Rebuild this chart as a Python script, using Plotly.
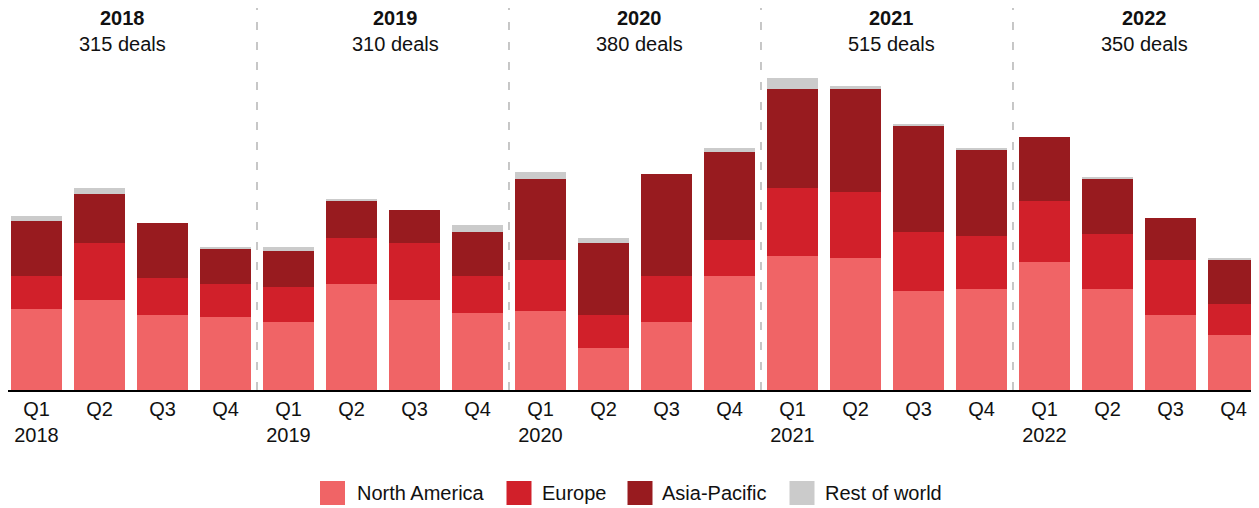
import plotly.graph_objects as go

# ---- data (deal counts per quarter) ----
quarters = ["Q1<br>2018", "Q2", "Q3", "Q4",
            "Q1<br>2019", "Q2", "Q3", "Q4",
            "Q1<br>2020", "Q2", "Q3", "Q4",
            "Q1<br>2021", "Q2", "Q3", "Q4",
            "Q1<br>2022", "Q2", "Q3", "Q4"]

north_america = [37, 41, 34, 33, 31, 48, 41, 35, 36, 19, 31, 52, 61, 60, 45, 46, 58, 46, 34, 25]
europe = [15, 26, 17, 15, 16, 21, 26, 17, 23, 15, 21, 16, 31, 30, 27, 24, 28, 25, 25, 14]
asia_pacific = [25, 22, 25, 16, 16, 17, 15, 20, 37, 33, 46, 40, 45, 47, 48, 39, 29, 25, 19, 20]
rest_of_world = [2, 3, 0, 1, 2, 1, 0, 3, 3, 2, 0, 2, 5, 1, 1, 1, 0, 1, 0, 1]

years = ["2018", "2019", "2020", "2021", "2022"]
deals = [315, 310, 380, 515, 350]

series = [
    ("North America", north_america, "#F06466"),
    ("Europe", europe, "#D1202A"),
    ("Asia-Pacific", asia_pacific, "#981B1F"),
    ("Rest of world", rest_of_world, "#CBCBCB"),
]

FONT = "Liberation Sans, Arial, sans-serif"
x = list(range(len(quarters)))

# page has an 8px body margin, so the figure is 8px smaller than the window
W, H = 1251, 500
PLOT_H = 382


def py(screen_y):
    # window pixel -> paper y
    return (390 - screen_y) / PLOT_H


def px(screen_x):
    # window pixel -> paper x
    return (screen_x - 8) / W


fig = go.Figure()
for name, vals, color in series:
    fig.add_trace(go.Bar(x=x, y=vals, name=name, marker_color=color,
                         marker_line_width=0, showlegend=False))

# year headers and dashed separators
header_x = [122, 395, 639, 891, 1144]
for i, (yr, n) in enumerate(zip(years, deals)):
    fig.add_annotation(x=px(header_x[i]), y=py(18), xref="paper", yref="paper",
                       text=f"<b>{yr}</b>", showarrow=False, xanchor="center", yanchor="middle",
                       font=dict(size=20, color="#111"))
    fig.add_annotation(x=px(header_x[i]), y=py(44), xref="paper", yref="paper",
                       text=f"{n} deals", showarrow=False, xanchor="center", yanchor="middle",
                       font=dict(size=20, color="#111"))
    if i > 0:
        fig.add_shape(type="line", x0=i * 4 - 0.5, x1=i * 4 - 0.5, y0=0, y1=py(5),
                      xref="x", yref="paper", layer="below",
                      line=dict(color="#b5b5b5", width=1.5, dash="8px,12px"))

# legend drawn by hand so the swatches match the larger squares
legend_items = [(332.5, 355), (519, 540), (640, 660), (802, 823)]
legend_y = py(493)
for (box_cx, text_x), (name, _, color) in zip(legend_items, series):
    fig.add_shape(type="rect", xref="paper", yref="paper",
                  xsizemode="pixel", ysizemode="pixel",
                  xanchor=px(box_cx), yanchor=legend_y,
                  x0=-12.5, x1=12.5, y0=-12, y1=12,
                  fillcolor=color, line_width=0)
    fig.add_annotation(x=px(text_x), y=legend_y, xref="paper", yref="paper",
                       text=name, showarrow=False, xanchor="left", yanchor="middle",
                       font=dict(size=20, color="#111"))

fig.update_layout(
    width=W, height=H,
    barmode="stack", bargap=0.19,
    margin=dict(l=0, r=0, t=0, b=H - PLOT_H),
    plot_bgcolor="white", paper_bgcolor="white",
    font=dict(family=FONT, size=20, color="#111"),
)
fig.update_xaxes(range=[-0.5 + 3 / 63, 19.405], tickmode="array", tickvals=x, ticktext=quarters,
                 showline=True, linecolor="black", linewidth=2, showgrid=False,
                 ticks="", zeroline=False, tickfont=dict(size=20, color="#111"))
fig.update_yaxes(range=[0, PLOT_H / 2.2], visible=False, showgrid=False)

fig.write_html("out.html")
